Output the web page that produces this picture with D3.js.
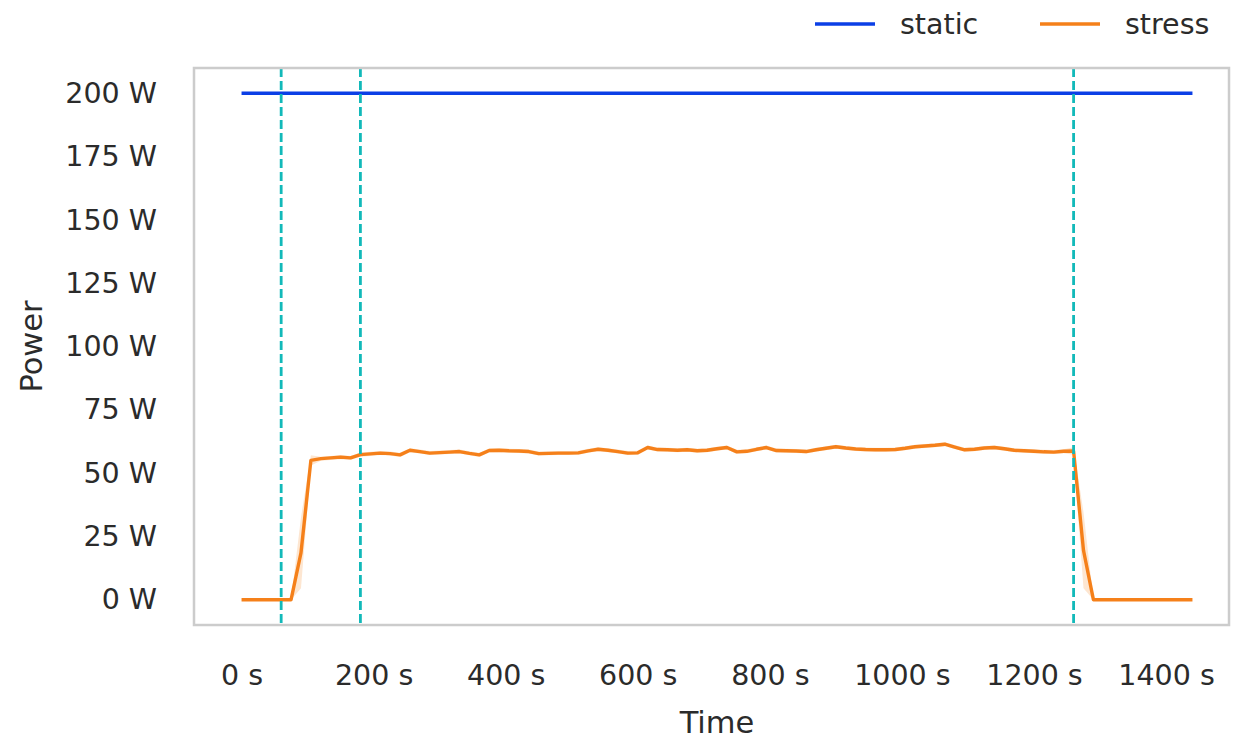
<!DOCTYPE html>
<html>
<head>
<meta charset="utf-8">
<script src="https://cdn.jsdelivr.net/npm/d3@7"></script>
<style>
  body { margin: 0; background: #fff; }
  text { font-family: "DejaVu Sans", sans-serif; fill: #2b2b2b; }
</style>
</head>
<body>
<div id="chart"></div>
<script>
// data, sampled every 15 s
var times = d3.range(0, 1441, 15);
var staticPower = times.map(function () { return 200; });
var stressPower = [
  0, 0, 0, 0, 0, 0, 18.5, 55.0, 55.7, 56.0, 56.3, 56.0, 57.3, 57.6, 57.9, 57.7,
  57.2, 59.0, 58.5, 57.9, 58.1, 58.3, 58.5, 57.8, 57.2, 58.9, 59.0, 58.8, 58.7, 58.5,
  57.7, 57.8, 57.9, 57.9, 58.0, 58.8, 59.4, 59.0, 58.5, 57.9, 58.0, 60.1, 59.3, 59.2,
  59.0, 59.2, 58.8, 59.0, 59.6, 60.1, 58.4, 58.6, 59.4, 60.1, 58.9, 58.8, 58.7, 58.5,
  59.2, 59.8, 60.4, 59.9, 59.5, 59.3, 59.2, 59.2, 59.3, 59.8, 60.4, 60.7, 61.0, 61.4,
  60.3, 59.2, 59.4, 59.9, 60.1, 59.6, 59.0, 58.8, 58.6, 58.4, 58.3, 58.6, 58.7, 19.5,
  0, 0, 0, 0, 0, 0, 0, 0, 0, 0, 0
];
// half width of the confidence band around stress
var stressSpread = [
  0, 0, 0, 0, 0, 0, 14, 2, 0.8, 0.8, 0.8, 0.8, 0.8, 0.8, 0.8, 0.8,
  0.8, 0.8, 0.8, 0.8, 0.8, 0.8, 0.8, 0.8, 0.8, 0.8, 0.8, 0.8, 0.8, 0.8,
  0.8, 0.8, 0.8, 0.8, 0.8, 0.8, 0.8, 0.8, 0.8, 0.8, 0.8, 0.8, 0.8, 0.8,
  0.8, 0.8, 0.8, 0.8, 0.8, 0.8, 0.8, 0.8, 0.8, 0.8, 0.8, 0.8, 0.8, 0.8,
  0.8, 0.8, 0.8, 0.8, 0.8, 0.8, 0.8, 0.8, 0.8, 0.8, 0.8, 0.8, 0.8, 0.8,
  0.8, 0.8, 0.8, 0.8, 0.8, 0.8, 0.8, 0.8, 0.8, 0.8, 0.8, 0.8, 1.5, 15,
  0, 0, 0, 0, 0, 0, 0, 0, 0, 0, 0
];
var markers = [60, 180, 1260];
var seriesNames = ["static", "stress"];
var xTicks = [0, 200, 400, 600, 800, 1000, 1200, 1400];
var yTicks = [0, 25, 50, 75, 100, 125, 150, 175, 200];

var colors = { static: "#0b3fe6", stress: "#f5801a" };

// chart setup
var svgWidth = 1235;
var svgHeight = 739;
var plot = { left: 194, right: 1240, top: 68, bottom: 625 };
var frameRight = 1229;

var svg = d3.select("#chart")
  .append("svg")
  .attr("width", svgWidth)
  .attr("height", svgHeight);

// 5% margins, like matplotlib
var xScale = d3.scaleLinear()
  .domain([-72, 1512])
  .range([plot.left, plot.right]);
var yScale = d3.scaleLinear()
  .domain([-10, 210])
  .range([plot.bottom, plot.top]);

var rows = times.map(function (t, i) {
  return { t: t, s: staticPower[i], p: stressPower[i], e: stressSpread[i] };
});

svg.append("clipPath").attr("id", "clip")
  .append("rect")
  .attr("x", plot.left).attr("y", plot.top)
  .attr("width", frameRight - plot.left).attr("height", plot.bottom - plot.top);

var body = svg.append("g").attr("clip-path", "url(#clip)");

// confidence band
body.append("path")
  .datum(rows)
  .attr("fill", colors.stress)
  .attr("fill-opacity", 0.2)
  .attr("d", d3.area()
    .x(function (d) { return xScale(d.t); })
    .y0(function (d) { return yScale(d.p - d.e); })
    .y1(function (d) { return yScale(d.p + d.e); }));

var line = d3.line().x(function (d) { return xScale(d.t); });

body.append("path")
  .datum(rows)
  .attr("fill", "none")
  .attr("stroke", colors.static)
  .attr("stroke-width", 3.4)
  .attr("d", line.y(function (d) { return yScale(d.s); }));

body.append("path")
  .datum(rows)
  .attr("fill", "none")
  .attr("stroke", colors.stress)
  .attr("stroke-width", 3.4)
  .attr("stroke-linejoin", "round")
  .attr("d", line.y(function (d) { return yScale(d.p); }));

// phase markers
body.selectAll(".marker")
  .data(markers)
  .enter().append("line")
  .attr("class", "marker")
  .attr("x1", function (d) { return xScale(d); })
  .attr("x2", function (d) { return xScale(d); })
  .attr("y1", plot.top)
  .attr("y2", plot.bottom)
  .attr("stroke", "#12b9b9")
  .attr("stroke-width", 2.8)
  .attr("stroke-dasharray", "9,4");

// frame
svg.append("rect")
  .attr("x", plot.left).attr("y", plot.top)
  .attr("width", frameRight - plot.left).attr("height", plot.bottom - plot.top)
  .attr("fill", "none")
  .attr("stroke", "#cccccc")
  .attr("stroke-width", 2.5);

// axes (no tick marks, only labels)
var xAxis = d3.axisBottom(xScale)
  .tickValues(xTicks)
  .tickSize(0)
  .tickPadding(40)
  .tickFormat(function (d) { return d + " s"; });
var gx = svg.append("g")
  .attr("transform", "translate(0," + plot.bottom + ")")
  .call(xAxis);
gx.select(".domain").remove();
gx.selectAll("text").attr("font-size", 28.5).style("font-family", "DejaVu Sans").attr("fill", "#2b2b2b");

var yAxis = d3.axisLeft(yScale)
  .tickValues(yTicks)
  .tickSize(0)
  .tickPadding(37)
  .tickFormat(function (d) { return d + " W"; });
var gy = svg.append("g")
  .attr("transform", "translate(" + plot.left + ",0)")
  .call(yAxis);
gy.select(".domain").remove();
gy.selectAll("text").attr("font-size", 28.5).style("font-family", "DejaVu Sans").attr("fill", "#2b2b2b");

// axis titles
svg.append("text")
  .attr("x", (plot.left + plot.right) / 2)
  .attr("y", 733)
  .attr("text-anchor", "middle")
  .attr("font-size", 30.5)
  .text("Time");

svg.append("text")
  .attr("transform", "translate(42," + ((plot.top + plot.bottom) / 2) + ") rotate(-90)")
  .attr("text-anchor", "middle")
  .attr("font-size", 30.5)
  .text("Power");

// legend
var legend = svg.append("g");
var legendX = [815, 1040];
seriesNames.forEach(function (name, i) {
  legend.append("line")
    .attr("x1", legendX[i]).attr("x2", legendX[i] + 60)
    .attr("y1", 24).attr("y2", 24)
    .attr("stroke", colors[name])
    .attr("stroke-width", 3.4);
  legend.append("text")
    .attr("x", legendX[i] + 85)
    .attr("y", 34)
    .attr("font-size", 28.5)
    .text(name);
});
</script>
</body>
</html>
